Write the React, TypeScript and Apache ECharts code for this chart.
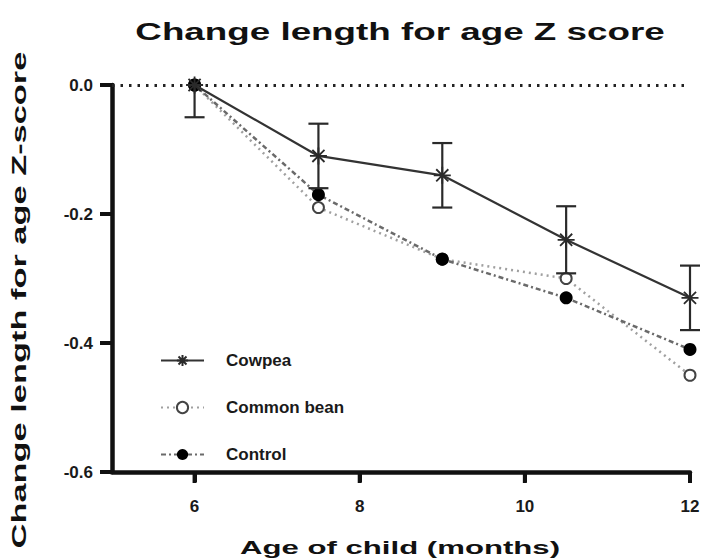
import React, { useEffect, useRef } from 'react';
import * as echarts from 'echarts';

const ages = [6, 7.5, 9, 10.5, 12];
const cowpea = [0, -0.11, -0.14, -0.24, -0.33];
const cowpeaErr = [0.05, 0.05, 0.05, 0.052, 0.05];
const commonBean = [0, -0.19, -0.27, -0.3, -0.45];
const control = [0, -0.17, -0.27, -0.33, -0.41];
const xTickValues = [6, 8, 10, 12];
const yTickValues = [0, -0.2, -0.4, -0.6];
const X_MIN = 5;
const X_MAX = 12;
const Y_MIN = -0.6;
const Y_MAX = 0;
const Y_STEP = 0.2;

const TITLE = 'Change length for age Z score';
const X_NAME = 'Age of child (months)';
const Y_NAME = 'Change length for age Z-score';
const SERIES_NAMES = ['Cowpea', 'Common bean', 'Control'];

const FONT = '"Liberation Sans", Arial, sans-serif';
const ASTERISK = 'path://M8 0L8 16M0 8L16 8M2.3 2.3L13.7 13.7M2.3 13.7L13.7 2.3';

export default function App() {
  const ref = useRef<HTMLDivElement>(null);
  useEffect(() => {
    if (!ref.current) return;
    const chart = echarts.init(ref.current, undefined, { renderer: 'svg' });
    const pairs = (ys: number[]) => ages.map((a, i) => [a, ys[i]]);
    const tickStyle = { stroke: '#111', lineWidth: 4 };
    const option: any = {
      animation: false,
      backgroundColor: '#ffffff',
      grid: { left: 112, right: 14, top: 85, bottom: 88, containLabel: false },
      xAxis: {
        type: 'value',
        min: X_MIN,
        max: X_MAX,
        splitLine: { show: false },
        axisLine: { show: true, onZero: false, lineStyle: { color: '#111', width: 4.5 } },
        axisTick: {
          show: true,
          inside: false,
          customValues: xTickValues,
          length: 10,
          lineStyle: { color: '#111', width: 4 },
        },
        axisLabel: {
          show: true,
          customValues: xTickValues,
          margin: 26,
          color: '#1a1a1a',
          fontWeight: 'bold',
          fontSize: 17,
        },
      },
      yAxis: {
        type: 'value',
        min: Y_MIN,
        max: Y_MAX,
        interval: Y_STEP,
        splitLine: { show: false },
        axisLine: { show: true, onZero: false, lineStyle: { color: '#111', width: 4.5 } },
        axisTick: { show: true, inside: false, length: 12, lineStyle: { color: '#111', width: 4 } },
        axisLabel: {
          show: true,
          margin: 19,
          color: '#1a1a1a',
          fontWeight: 'bold',
          fontSize: 17,
          formatter: (v: number) => v.toFixed(1),
        },
      },
      legend: {
        orient: 'vertical',
        left: 155,
        top: 347,
        itemWidth: 43,
        itemHeight: 14,
        itemGap: 30,
        data: SERIES_NAMES,
        textStyle: {
          color: '#1a1a1a',
          fontWeight: 'bold',
          fontSize: 17,
          padding: [0, 0, 0, 17],
        },
      },
      graphic: [
        {
          type: 'text',
          x: 400,
          y: 32,
          scaleX: 1.6,
          style: {
            text: TITLE,
            font: `bold 23px ${FONT}`,
            fill: '#111',
            textAlign: 'center',
            textVerticalAlign: 'middle',
          },
        },
        {
          type: 'text',
          x: 400,
          y: 547,
          scaleX: 1.64,
          style: {
            text: X_NAME,
            font: `bold 19px ${FONT}`,
            fill: '#111',
            textAlign: 'center',
            textVerticalAlign: 'middle',
          },
        },
        {
          type: 'text',
          x: 19,
          y: 300,
          rotation: Math.PI / 2,
          scaleX: 1.72,
          style: {
            text: Y_NAME,
            font: `bold 20px ${FONT}`,
            fill: '#111',
            textAlign: 'center',
            textVerticalAlign: 'middle',
          },
        },
      ],
      series: [
        {
          name: 'zero',
          type: 'line',
          data: [],
          silent: true,
          markLine: {
            silent: true,
            symbol: 'none',
            label: { show: false },
            lineStyle: { color: '#222', type: [2.5, 6], width: 3 },
            data: [{ yAxis: 0 }],
          },
        },
        {
          name: 'x-ticks',
          type: 'custom',
          clip: false,
          silent: true,
          data: xTickValues.map((v) => [v, Y_MIN]),
          renderItem: (params: any, api: any) => {
            const c = api.coord([api.value(0), api.value(1)]);
            return { type: 'line', shape: { x1: c[0], y1: c[1], x2: c[0], y2: c[1] + 11 }, style: tickStyle };
          },
          z: 10,
        },
        {
          name: 'y-ticks',
          type: 'custom',
          clip: false,
          silent: true,
          data: yTickValues.map((v) => [X_MIN, v]),
          renderItem: (params: any, api: any) => {
            const c = api.coord([api.value(0), api.value(1)]);
            return { type: 'line', shape: { x1: c[0] - 12, y1: c[1], x2: c[0], y2: c[1] }, style: tickStyle };
          },
          z: 10,
        },
        {
          name: SERIES_NAMES[1],
          type: 'line',
          clip: false,
          data: pairs(commonBean),
          symbol: 'emptyCircle',
          symbolSize: 11,
          lineStyle: { color: '#a0a0a0', width: 2.5, type: [2, 4] },
          itemStyle: { color: '#444', borderColor: '#444', borderWidth: 2.5 },
          z: 2,
        },
        {
          name: SERIES_NAMES[2],
          type: 'line',
          clip: false,
          data: pairs(control),
          symbol: 'circle',
          symbolSize: 13,
          lineStyle: { color: '#6a6a6a', width: 2.5, type: [5, 3, 2, 3] },
          itemStyle: { color: '#000' },
          z: 3,
        },
        {
          name: 'cowpea-err',
          type: 'custom',
          clip: false,
          data: ages.map((a, i) => [a, cowpea[i], cowpeaErr[i]]),
          renderItem: (params: any, api: any) => {
            const x = api.value(0);
            const y = api.value(1);
            const e = api.value(2);
            const hiVal = Math.min(y + e, Y_MAX);
            const pTop = api.coord([x, hiVal]);
            const pBot = api.coord([x, y - e]);
            const w = 10;
            const st = { stroke: '#2a2a2a', lineWidth: 2.2 };
            const children: any[] = [
              { type: 'line', shape: { x1: pTop[0], y1: pTop[1], x2: pBot[0], y2: pBot[1] }, style: st },
              { type: 'line', shape: { x1: pBot[0] - w, y1: pBot[1], x2: pBot[0] + w, y2: pBot[1] }, style: st },
            ];
            if (y + e <= Y_MAX) {
              children.push({ type: 'line', shape: { x1: pTop[0] - w, y1: pTop[1], x2: pTop[0] + w, y2: pTop[1] }, style: st });
            }
            return { type: 'group', children };
          },
          z: 4,
        },
        {
          name: SERIES_NAMES[0],
          type: 'line',
          clip: false,
          data: pairs(cowpea),
          symbol: ASTERISK,
          symbolSize: 17,
          lineStyle: { color: '#333', width: 2.2, type: 'solid' },
          itemStyle: { color: '#2a2a2a', borderColor: '#2a2a2a', borderWidth: 1.8 },
          z: 5,
        },
      ],
    };
    chart.setOption(option);
    return () => chart.dispose();
  }, []);
  return (
    <div
      ref={ref}
      style={{ position: 'fixed', left: 0, top: 0, width: 704, height: 560, background: '#fff' }}
    />
  );
}
